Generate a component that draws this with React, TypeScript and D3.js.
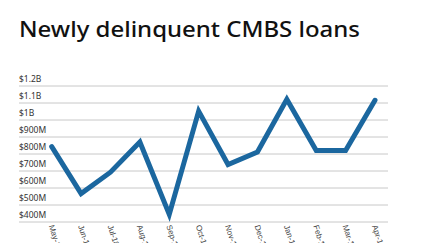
import React from "react";
import * as d3 from "d3";

const months = ["May-18", "Jun-18", "Jul-18", "Aug-18", "Sep-18", "Oct-18", "Nov-18", "Dec-18", "Jan-19", "Feb-19", "Mar-19", "Apr-19"];
const values = [843, 567, 693, 870, 445, 1052, 738, 812, 1122, 820, 820, 1116];
const yTicks = [400, 500, 600, 700, 800, 900, 1000, 1100, 1200];
const yTickLabels = ["$400M", "$500M", "$600M", "$700M", "$800M", "$900M", "$1B", "$1.1B", "$1.2B"];

const W = 430;
const H = 243;

export default function App() {
  const x = d3.scalePoint<string>().domain(months).range([51.7, 375]);
  const y = d3.scaleLinear().domain([400, 1200]).range([222, 86]);
  const line = d3
    .line<number>()
    .x((_, i) => x(months[i]) as number)
    .y((d) => y(d));

  return (
    <svg width={W} height={H} style={{ position: "absolute", left: 0, top: 0, background: "#fff" }}>
      <text
        x={19}
        y={37}
        fontFamily="'Noto Sans', Lato, sans-serif"
        fontWeight={500}
        fontSize={22.5}
        fill="#111"
        textLength={341}
        lengthAdjust="spacingAndGlyphs"
      >
        Newly delinquent CMBS loans
      </text>
      {yTicks.map((t, i) => (
        <g key={t}>
          <line x1={19} x2={388} y1={y(t)} y2={y(t)} stroke="#c8c8c8" strokeWidth={1} />
          <text x={19} y={y(t) - 4} fontFamily="'Noto Sans', Lato, sans-serif" fontSize={8.5} fill="#333">
            {yTickLabels[i]}
          </text>
        </g>
      ))}
      <path d={line(values) || ""} fill="none" stroke="#1b679f" strokeWidth={5} strokeLinejoin="miter" strokeLinecap="round" />
      {months.map((m) => (
        <text
          key={m}
          transform={`translate(${(x(m) as number) - 3},${226}) rotate(72)`}
          fontFamily="'Liberation Sans', Arial, sans-serif"
          fontSize={8}
          fill="#444"
        >
          {m}
        </text>
      ))}
    </svg>
  );
}
